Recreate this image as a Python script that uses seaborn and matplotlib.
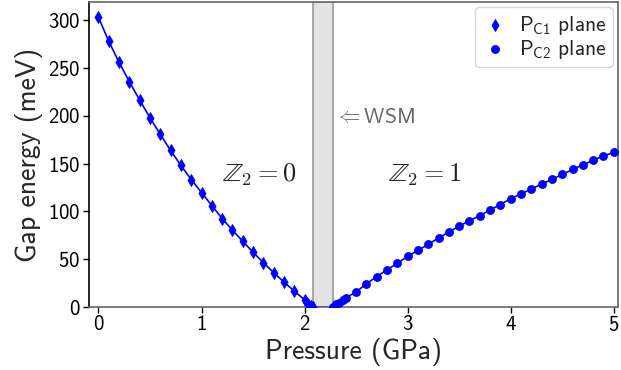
import numpy as np
import pandas as pd
import matplotlib
matplotlib.use("Agg")
import matplotlib.pyplot as plt
import seaborn as sns

# ---- data ----
p_c1 = [0.0, 0.1, 0.2, 0.3, 0.4, 0.5, 0.6, 0.7, 0.8, 0.9, 1.0, 1.1, 1.2, 1.3,
        1.4, 1.5, 1.6, 1.7, 1.8, 1.9, 2.0, 2.03, 2.06, 2.08]
gap_c1 = [302.8, 277.7, 255.7, 235.4, 216.3, 197.8, 180.4, 163.7, 148.0, 133.3,
          119.7, 106.1, 92.5, 80.3, 68.8, 57.3, 46.5, 36.0, 26.2, 16.7, 7.7,
          3.6, 1.2, 0.0]
p_c2 = [2.28, 2.30, 2.33, 2.37, 2.4, 2.5, 2.6, 2.7, 2.8, 2.9, 3.0, 3.1, 3.2,
        3.3, 3.4, 3.5, 3.6, 3.7, 3.8, 3.9, 4.0, 4.1, 4.2, 4.3, 4.4, 4.5, 4.6,
        4.7, 4.8, 4.9, 5.0]
gap_c2 = [0.0, 2.8, 4.6, 7.0, 9.8, 15.7, 24.5, 31.8, 39.1, 45.7, 53.1, 59.3,
          65.6, 72.2, 78.5, 84.5, 90.4, 95.6, 101.5, 107.2, 113.4, 118.3, 123.5,
          128.4, 133.6, 138.6, 143.8, 148.6, 153.5, 158.0, 161.6]
wsm_p = [2.08, 2.28]
wsm_gap = [0.0, 0.0]
wsm_range = (2.08, 2.28)
labels = ["P$_{\\mathrm{C1}}$ plane", "P$_{\\mathrm{C2}}$ plane"]

sns.set_style("white")
plt.rcParams['font.family'] = ['cmss10', 'DejaVu Sans']
plt.rcParams['mathtext.fontset'] = 'custom'
plt.rcParams['mathtext.rm'] = 'cmss10'
plt.rcParams['mathtext.sf'] = 'cmss10'
plt.rcParams['axes.formatter.use_mathtext'] = True
plt.rcParams['axes.unicode_minus'] = False

fig = plt.figure(figsize=(6.21, 3.70), dpi=100)
ax = fig.add_axes([0.143, 0.170, 0.852, 0.825])

ax.axvspan(*wsm_range, facecolor='#e3e3e3', edgecolor='#999999', lw=1.2, zorder=1)

df1 = pd.DataFrame({'p': p_c1, 'g': gap_c1})
df2 = pd.DataFrame({'p': p_c2, 'g': gap_c2})
dfw = pd.DataFrame({'p': wsm_p, 'g': wsm_gap})

sns.lineplot(data=df1, x='p', y='g', color='blue', lw=1.2, ax=ax, legend=False, zorder=2)
sns.lineplot(data=df2, x='p', y='g', color='blue', lw=1.2, ax=ax, legend=False, zorder=2)
sns.lineplot(data=dfw, x='p', y='g', color='blue', lw=1.2, ax=ax, legend=False, zorder=2)
sns.scatterplot(data=df1, x='p', y='g', color='blue', marker='d', s=38,
                edgecolor='blue', linewidth=0.5, ax=ax, label=labels[0], zorder=3)
sns.scatterplot(data=df2, x='p', y='g', color='blue', marker='o', s=34,
                edgecolor='blue', linewidth=0.5, ax=ax, label=labels[1], zorder=3)

ax.set_xlim(-0.094, 5.04)
ax.set_ylim(0, 319)
ax.set_xticks([0, 1, 2, 3, 4, 5])
ax.set_yticks([0, 50, 100, 150, 200, 250, 300])
ax.tick_params(axis='both', labelsize=15, direction='out', length=4, width=1,
               colors='black', bottom=True, left=True, pad=2)
ax.set_xlabel('Pressure (GPa)', fontsize=20, labelpad=2)
ax.set_ylabel('Gap energy (meV)', fontsize=20, labelpad=4)

ax.spines['left'].set_color('black')
for side in ['bottom', 'top', 'right']:
    ax.spines[side].set_color('#666666')
for s in ax.spines.values():
    s.set_linewidth(1.2)

ax.text(1.2, 138, r'$\mathbb{Z}_2=0$', fontsize=19, color='#222222',
        math_fontfamily='cm', va='center', ha='left')
ax.text(2.81, 138, r'$\mathbb{Z}_2=1$', fontsize=19, color='#222222',
        math_fontfamily='cm', va='center', ha='left')
ax.text(2.285, 198, r'$\Leftarrow$WSM', fontsize=15.5, color='#666666',
        va='center', ha='left')

leg = ax.legend(loc='upper right', fontsize=15.5, frameon=True, handletextpad=0.5,
                borderpad=0.3, labelspacing=0.05, handlelength=1.2,
                borderaxespad=0.25)
leg.get_frame().set_edgecolor('#cccccc')

fig.savefig('out.png', dpi=100)
